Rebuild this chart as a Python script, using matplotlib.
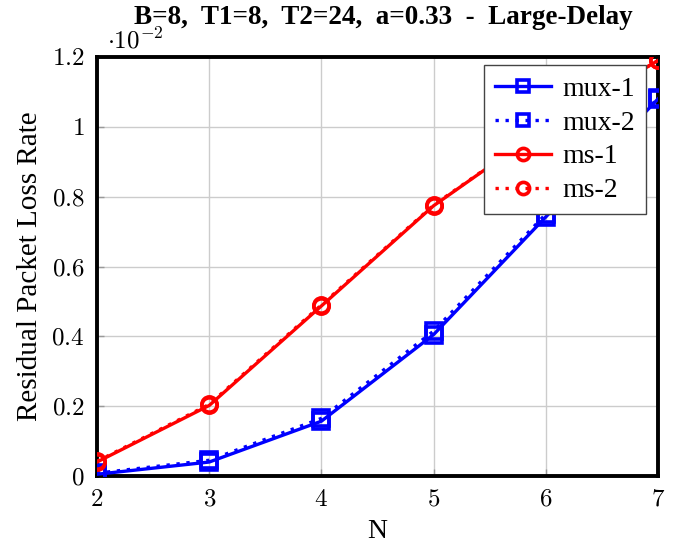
import matplotlib.pyplot as plt
from matplotlib.ticker import MultipleLocator, FuncFormatter

plt.rcParams['font.family'] = ['Liberation Serif', 'DejaVu Serif']
plt.rcParams['mathtext.fontset'] = 'cm'

# data (values in units of 1e-2)
N = [2, 3, 4, 5, 6, 7]
mux1 = [0.005, 0.04, 0.157, 0.405, 0.742, 1.08]
mux2 = [0.008, 0.045, 0.165, 0.415, 0.75, 1.082]
ms1 = [0.04, 0.202, 0.487, 0.774, 1.0, 1.19]
ms2 = [0.042, 0.205, 0.49, 0.776, 1.0, 1.19]

fig = plt.figure(figsize=(6.86, 5.46), dpi=100)
ax = fig.add_axes([97/686, 1-476/546, (658-97)/686, (476-57)/546])

ax.plot(N, mux1, color='blue', lw=2.4, marker='s', ms=11, mfc='none', mew=2.6, label='mux-1', zorder=3)
ax.plot(N, mux2, color='blue', lw=2.4, ls=(0, (1, 2)), marker='s', ms=11, mfc='none', mew=2.6, label='mux-2', zorder=3)
ax.plot(N, ms1, color='red', lw=2.4, marker='o', ms=11, mfc='none', mew=2.6, label='ms-1', zorder=3)
ax.plot(N, ms2, color='red', lw=2.4, ls=(0, (1, 2)), marker='o', ms=11, mfc='none', mew=2.6, label='ms-2', zorder=3)

ax.set_xlim(2, 7)
ax.set_ylim(0, 1.2)
ax.xaxis.set_major_locator(MultipleLocator(1))
ax.yaxis.set_major_locator(MultipleLocator(0.2))
ax.xaxis.set_major_formatter(FuncFormatter(lambda v, p: r'$%g$' % v))
ax.yaxis.set_major_formatter(FuncFormatter(lambda v, p: r'$%g$' % round(v, 2)))
ax.grid(True, color='#cccccc', lw=1)
ax.set_axisbelow(True)
ax.tick_params(direction='in', labelsize=18, length=5, width=1, colors='#999999', labelcolor='black', pad=9)
for s in ax.spines.values():
    s.set_linewidth(2.8)
for lab in ax.get_xticklabels() + ax.get_yticklabels():
    lab.set_clip_on(False)

ax.set_xlabel('N', fontsize=20, labelpad=6)
ax.set_ylabel('Residual Packet Loss Rate', fontsize=21, labelpad=6)
fig.text(383/686, 1-17/546, 'B=8,  T1=8,  T2=24,  a=0.33  -  Large-Delay', fontsize=19.5,
         fontweight='bold', ha='center', va='center')
fig.text(107/686, 1-41/546, r'$\cdot 10^{-2}$', fontsize=18, va='center', ha='left')

leg = ax.legend(loc='upper right', bbox_to_anchor=(0.978, 0.98), fontsize=20, fancybox=False,
                framealpha=1, edgecolor='#444444', handlelength=2.0, handletextpad=0.4,
                labelspacing=0.3, borderpad=0.4, borderaxespad=0, markerscale=0.8)
leg.get_frame().set_linewidth(1)
leg.set_zorder(5)

plt.savefig('out.png', dpi=100)
